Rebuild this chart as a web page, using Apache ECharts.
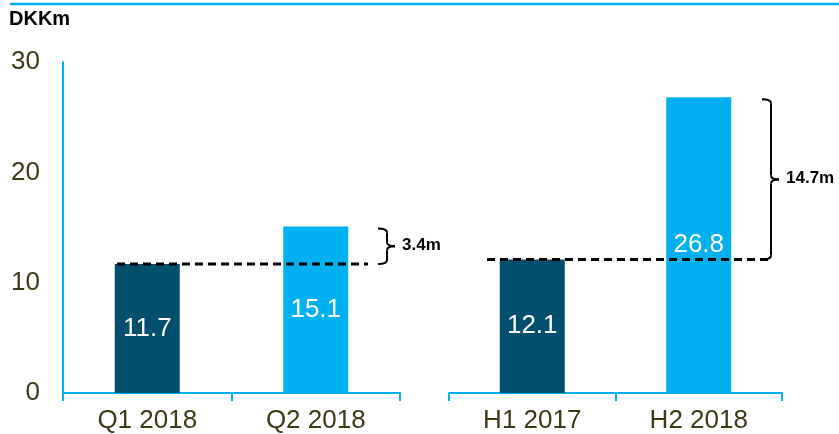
<!DOCTYPE html>
<html>
<head>
<meta charset="utf-8">
<script src="https://cdn.jsdelivr.net/npm/echarts@6.0.0/dist/echarts.min.js"></script>
<style>
  html, body { margin: 0; padding: 0; background: #fff; }
  #chart { width: 839px; height: 434px; }
</style>
</head>
<body>
<div id="chart"></div>
<script>
// data
const quarterCats = ['Q1 2018', 'Q2 2018'];
const quarterValues = [11.7, 15.1];
const halfCats = ['H1 2017', 'H2 2018'];
const halfValues = [12.1, 26.8];
const yTicks = [0, 10, 20, 30];
const diffLabels = ['3.4m', '14.7m'];

const DARK = '#004f6d';
const LIGHT = '#00b0f0';
const TEXT = '#3d3a15';
const FONT = '"Liberation Sans", Arial, sans-serif';

const chart = echarts.init(document.getElementById('chart'));

function barData(values) {
  return values.map((v, i) => ({
    value: v,
    itemStyle: { color: i === 0 ? DARK : LIGHT }
  }));
}

function xAxis(cats, idx) {
  return {
    type: 'category',
    gridIndex: idx,
    data: cats,
    axisLine: { lineStyle: { color: LIGHT, width: 2 } },
    axisTick: { show: true, length: 8, lineStyle: { color: LIGHT, width: 2 } },
    axisLabel: { color: TEXT, fontSize: 26, fontFamily: FONT, margin: 15 }
  };
}

function yAxis(idx, visible) {
  return {
    type: 'value',
    gridIndex: idx,
    min: yTicks[0],
    max: yTicks[yTicks.length - 1],
    interval: 10,
    show: visible,
    splitLine: { show: false },
    axisLine: { show: true, lineStyle: { color: LIGHT, width: 2 } },
    axisTick: { show: false },
    axisLabel: { color: TEXT, fontSize: 26, fontFamily: FONT, margin: 23 }
  };
}

const barLabel = {
  show: true,
  position: 'inside',
  color: '#fff',
  fontSize: 26,
  fontFamily: FONT,
  formatter: p => p.value.toFixed(1)
};

chart.setOption({
  animation: false,
  grid: [
    { left: 63, top: 62, width: 337, height: 331 },
    { left: 449, top: 62, width: 333, height: 331 }
  ],
  xAxis: [xAxis(quarterCats, 0), xAxis(halfCats, 1)],
  yAxis: [yAxis(0, true), yAxis(1, false)],
  series: [
    { type: 'bar', xAxisIndex: 0, yAxisIndex: 0, barWidth: 65, data: barData(quarterValues), label: barLabel },
    { type: 'bar', xAxisIndex: 1, yAxisIndex: 1, barWidth: 65, data: barData(halfValues), label: barLabel }
  ]
});

// dashed baselines and braces, y from the value scale
function yPx(idx, v) {
  return chart.convertToPixel({ yAxisIndex: idx }, v);
}

const braceStyle = { stroke: '#000', lineWidth: 2, fill: null };

function brace(x0, x1, xt, top, bottom) {
  const mid = (top + bottom) / 2;
  const r = 4;
  const curve = (a, c, b) => ({
    type: 'bezierCurve', z: 10,
    shape: { x1: a[0], y1: a[1], cpx1: c[0], cpy1: c[1], x2: b[0], y2: b[1] },
    style: braceStyle
  });
  const seg = (a, b) => ({
    type: 'line', z: 10,
    shape: { x1: a[0], y1: a[1], x2: b[0], y2: b[1] },
    style: braceStyle
  });
  return [
    curve([x0, top], [x1, top], [x1, top + r]),
    seg([x1, top + r], [x1, mid - r]),
    curve([x1, mid - r], [x1, mid], [xt, mid]),
    curve([xt, mid], [x1, mid], [x1, mid + r]),
    seg([x1, mid + r], [x1, bottom - r]),
    curve([x1, bottom - r], [x1, bottom], [x0, bottom])
  ];
}

const groups = [
  { idx: 0, base: quarterValues[0], top: quarterValues[1], lx0: 117, lx1: 368, bx: 378, label: diffLabels[0] },
  { idx: 1, base: halfValues[0], top: halfValues[1], lx0: 487, lx1: 770, bx: 762, label: diffLabels[1] }
];

const graphics = [
  { type: 'line', shape: { x1: 10, y1: 4, x2: 839, y2: 4 }, style: { stroke: LIGHT, lineWidth: 2.5 } },
  {
    type: 'text', x: 9, y: 19,
    style: { text: 'DKKm', fontSize: 20, fontWeight: 'bold', fontFamily: FONT, fill: '#000', verticalAlign: 'middle' }
  }
];

groups.forEach(g => {
  const yb = yPx(g.idx, g.base);
  const yt = yPx(g.idx, g.top);
  graphics.push({
    type: 'line', z: 10,
    shape: { x1: g.lx0, y1: yb, x2: g.lx1, y2: yb },
    style: { stroke: '#000', lineWidth: 3, lineDash: [8, 5] }
  });
  brace(g.bx, g.bx + 9, g.bx + 17, yt + 2, yb).forEach(el => graphics.push(el));
  graphics.push({
    type: 'text', z: 10,
    x: g.bx + 24, y: (yt + yb) / 2,
    style: { text: g.label, fontSize: 17, fontWeight: 'bold', fontFamily: FONT, fill: '#000', verticalAlign: 'middle' }
  });
});

chart.setOption({ graphic: graphics });
</script>
</body>
</html>
